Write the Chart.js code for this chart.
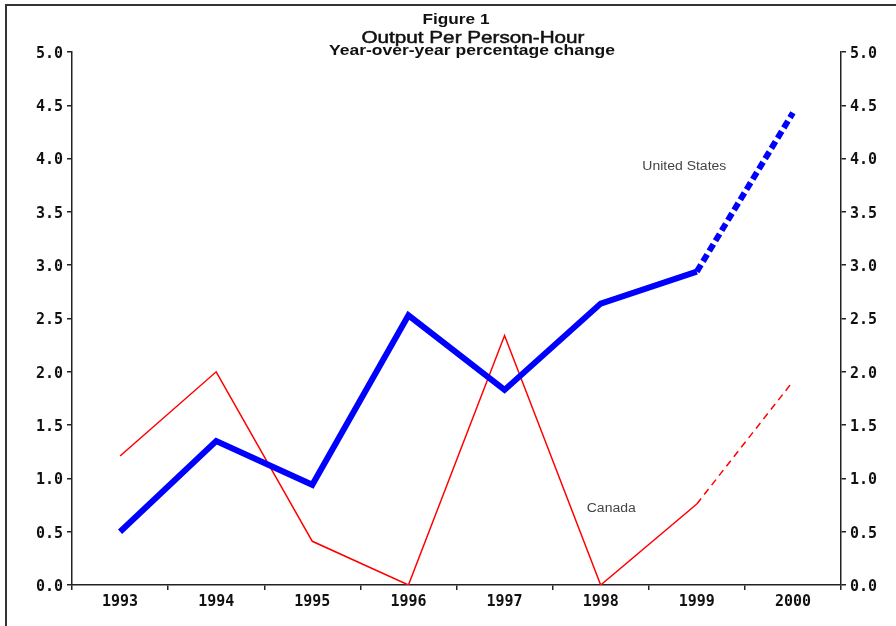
<!DOCTYPE html>
<html>
<head>
<meta charset="utf-8">
<script src="https://cdn.jsdelivr.net/npm/chart.js@4.4.1/dist/chart.umd.min.js"></script>
<style>
  html, body { margin: 0; padding: 0; background: #fff; }
  #wrap { width: 896px; height: 626px; position: relative; }
</style>
</head>
<body>
<div id="wrap"><canvas id="c" width="896" height="626"></canvas></div>
<script>
const categories = ['1993', '1994', '1995', '1996', '1997', '1998', '1999', '2000'];
const usValues = [0.50, 1.35, 0.94, 2.53, 1.83, 2.64, 2.94, 4.43];
const canadaValues = [1.21, 2.00, 0.41, 0.00, 2.34, 0.00, 0.76, 1.91];
const seriesNames = ['United States', 'Canada'];
// label anchor positions in data units: [category index, value]
const labelAnchors = [[5.87, 3.92], [5.11, 0.72]];
const titleLines = ['Figure 1', 'Output Per Person-Hour', 'Year-over-year percentage change'];
const yMin = 0, yMax = 5, yStep = 0.5;

function drawFit(ctx, text, cx, cy, width, font, stroke) {
  ctx.save();
  ctx.font = font;
  const w = ctx.measureText(text).width;
  ctx.translate(cx, cy);
  ctx.scale(width / w, 1);
  ctx.textAlign = 'center';
  ctx.textBaseline = 'middle';
  ctx.fillText(text, 0, 0);
  if (stroke) {
    ctx.strokeStyle = ctx.fillStyle;
    ctx.lineWidth = stroke;
    ctx.strokeText(text, 0, 0);
  }
  ctx.restore();
}

const decor = {
  id: 'decor',
  afterDraw(chart) {
    const ctx = chart.ctx;
    const xs = chart.scales.x, ys = chart.scales.y;
    ctx.save();
    // frame (top and left edges)
    ctx.strokeStyle = '#333';
    ctx.lineWidth = 2;
    ctx.beginPath();
    ctx.moveTo(6, 626);
    ctx.lineTo(6, 5);
    ctx.lineTo(896, 5);
    ctx.stroke();
    // titles
    ctx.fillStyle = '#111';
    drawFit(ctx, titleLines[0], 456, 20, 67, 'bold 14px Arial, "Liberation Sans", sans-serif');
    drawFit(ctx, titleLines[1], 473, 38, 223, '17px Arial, "Liberation Sans", sans-serif', 0.5);
    drawFit(ctx, titleLines[2], 472, 51, 286, 'bold 14px Arial, "Liberation Sans", sans-serif');
    // series labels
    ctx.fillStyle = '#444';
    const fw = [84, 49];
    seriesNames.forEach((n, i) => {
      const [ci, v] = labelAnchors[i];
      const x = xs.getPixelForValue(0) + ci * (xs.getPixelForValue(1) - xs.getPixelForValue(0));
      const y = ys.getPixelForValue(v);
      drawFit(ctx, n, x, y, fw[i], '12px Arial, "Liberation Sans", sans-serif');
    });
    ctx.restore();
  }
};

const tickFont = { family: '"DejaVu Sans Mono", monospace', size: 15, weight: 'bold' };
function yAxis(pos, width) {
  return {
    type: 'linear',
    position: pos,
    min: yMin, max: yMax,
    afterFit: s => { s.width = width; },
    ticks: {
      stepSize: yStep,
      color: '#111',
      font: tickFont,
      padding: 4,
      labelOffset: 2,
      callback: v => Number(v).toFixed(1)
    },
    grid: { drawOnChartArea: false, drawTicks: true, tickLength: 5, color: '#222', lineWidth: 1.5 },
    border: { display: true, color: '#222', width: 1.5 }
  };
}

new Chart(document.getElementById('c'), {
  type: 'line',
  data: {
    labels: categories,
    datasets: [
      {
        label: seriesNames[0],
        data: usValues,
        borderColor: '#0000ff',
        borderWidth: 6,
        pointRadius: 0,
        tension: 0,
        yAxisID: 'y',
        segment: { borderDash: c => c.p0DataIndex >= 6 ? [8, 4] : undefined }
      },
      {
        label: seriesNames[1],
        data: canadaValues,
        borderColor: '#ff0000',
        borderWidth: 1.5,
        pointRadius: 0,
        tension: 0,
        yAxisID: 'y',
        segment: { borderDash: c => c.p0DataIndex >= 6 ? [7, 5] : undefined }
      }
    ]
  },
  options: {
    responsive: false,
    animation: false,
    layout: { padding: { top: 52, left: 0, right: 0, bottom: 0 } },
    plugins: { legend: { display: false }, tooltip: { enabled: false }, title: { display: false } },
    scales: {
      x: {
        type: 'category',
        offset: true,
        afterFit: s => { s.height = 41; },
        ticks: { color: '#111', font: tickFont, padding: 3, maxRotation: 0 },
        grid: { offset: true, drawOnChartArea: false, drawTicks: true, tickLength: 5, color: '#222', lineWidth: 1.5 },
        border: { display: true, color: '#222', width: 1.5 }
      },
      y: yAxis('left', 72),
      y2: yAxis('right', 55)
    }
  },
  plugins: [decor]
});
</script>
</body>
</html>
